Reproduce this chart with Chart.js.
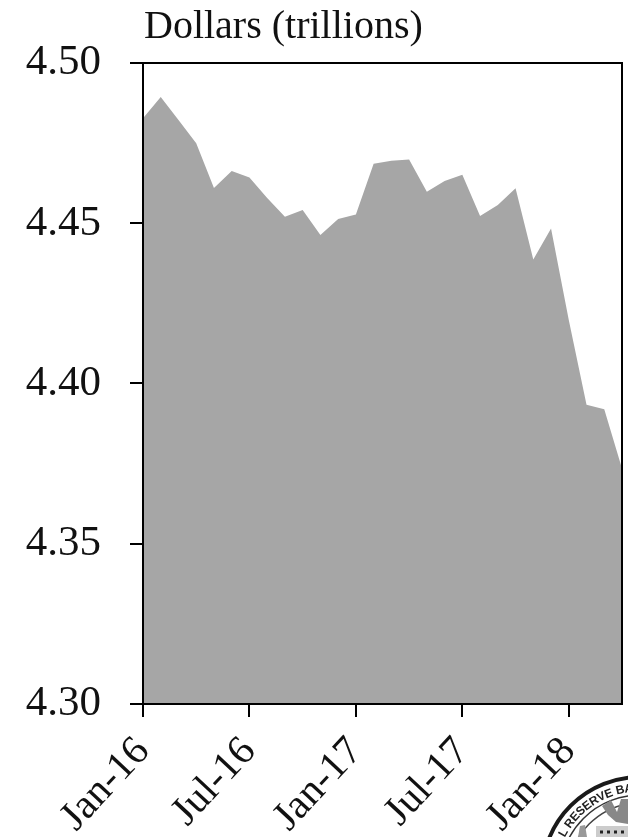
<!DOCTYPE html>
<html>
<head>
<meta charset="utf-8">
<script src="https://cdn.jsdelivr.net/npm/chart.js@4"></script>
<style>
  html, body { margin: 0; padding: 0; background: #fff; overflow: hidden; }
  #wrap { position: relative; width: 628px; height: 837px; overflow: hidden; }
  #unit { position: absolute; left: 144px; top: 1px; font: 40px 'Liberation Serif', serif; color: #111; white-space: nowrap; }
  #seal { position: absolute; left: 0; top: 0; }
</style>
</head>
<body>
<div id="wrap">
  <canvas id="chart" width="628" height="837"></canvas>
  <div id="unit">Dollars (trillions)</div>
  <!-- bank seal, cut off by the page corner -->
  <svg id="seal" width="628" height="837">
    <defs><path id="sealArc" d="M 561 904 A 84 84 0 1 1 724 875"/></defs>
    <circle cx="640" cy="875" r="98" fill="none" stroke="#1a1a1a" stroke-width="4"/>
    <circle cx="640" cy="875" r="80" fill="none" stroke="#333" stroke-width="1.5"/>
    <circle cx="640" cy="875" r="72" fill="none" stroke="#444" stroke-width="1.5"/>
    <text font-family="'Liberation Sans', sans-serif" font-weight="bold" font-size="12" fill="#222" letter-spacing="-0.2">
      <textPath href="#sealArc" startOffset="20">FEDERAL RESERVE BANK</textPath>
    </text>
    <path d="M 602 806 L 611 800 L 617 812 L 621 799 L 628 799 L 628 824 L 616 822 L 608 815 Z" fill="#888"/>
    <path d="M 578 837 L 580 826 L 585 825 L 587 837 Z" fill="#999"/>
    <path d="M 596 837 L 596 826 L 628 826 L 628 837 Z" fill="#ccc"/>
    <path d="M 600 832 H 628" stroke="#222" stroke-width="3" stroke-dasharray="3 4"/>
  </svg>
</div>
<script>
const MONTHS = ['Jan-16','Feb-16','Mar-16','Apr-16','May-16','Jun-16','Jul-16','Aug-16','Sep-16','Oct-16','Nov-16','Dec-16',
  'Jan-17','Feb-17','Mar-17','Apr-17','May-17','Jun-17','Jul-17','Aug-17','Sep-17','Oct-17','Nov-17','Dec-17',
  'Jan-18','Feb-18','Mar-18','Apr-18'];
const BALANCES = [4.4828,4.4894,4.4822,4.4750,4.4610,4.4663,4.4643,4.4579,4.4520,4.4541,4.4463,4.4513,
  4.4527,4.4686,4.4695,4.4699,4.4598,4.4632,4.4651,4.4523,4.4557,4.4609,4.4387,4.4484,
  4.4198,4.3934,4.3920,4.3735];

// top and right edges of the frame, plus the other two back over the fill
const frame = {
  id: 'frame',
  afterDatasetsDraw(chart) {
    const a = chart.chartArea, c = chart.ctx;
    c.save();
    c.strokeStyle = '#000';
    c.lineWidth = 2;
    c.strokeRect(a.left, a.top, a.right - a.left, a.bottom - a.top);
    c.restore();
  }
};

new Chart(document.getElementById('chart'), {
  type: 'line',
  data: {
    labels: MONTHS,
    datasets: [{
      data: BALANCES,
      borderWidth: 0,
      pointRadius: 0,
      tension: 0,
      fill: 'origin',
      backgroundColor: '#a6a6a6'
    }]
  },
  options: {
    responsive: false,
    animation: false,
    layout: { padding: { left: 0, right: 6, top: 63, bottom: 0 } },
    plugins: { legend: { display: false }, tooltip: { enabled: false } },
    scales: {
      x: {
        offset: false,
        afterFit: axis => { axis.height = 133; },
        grid: { drawOnChartArea: false, color: '#000', lineWidth: 2, tickLength: 13 },
        border: { color: '#000', width: 2 },
        afterBuildTicks: axis => { axis.ticks = axis.ticks.filter(t => t.value % 6 === 0); },
        ticks: {
          autoSkip: false, minRotation: 47, maxRotation: 47, padding: 11, color: '#111',
          font: { family: "'Liberation Serif', serif", size: 41 },
          callback(v) { return MONTHS[v]; }
        }
      },
      y: {
        min: 4.30, max: 4.50,
        afterFit: axis => { axis.width = 143; },
        grid: { drawOnChartArea: false, color: '#000', lineWidth: 2, tickLength: 13 },
        border: { color: '#000', width: 2 },
        ticks: {
          stepSize: 0.05, padding: 29, color: '#111',
          font: { family: "'Liberation Serif', serif", size: 43 },
          callback: v => v.toFixed(2)
        }
      }
    }
  },
  plugins: [frame]
});
</script>
</body>
</html>
